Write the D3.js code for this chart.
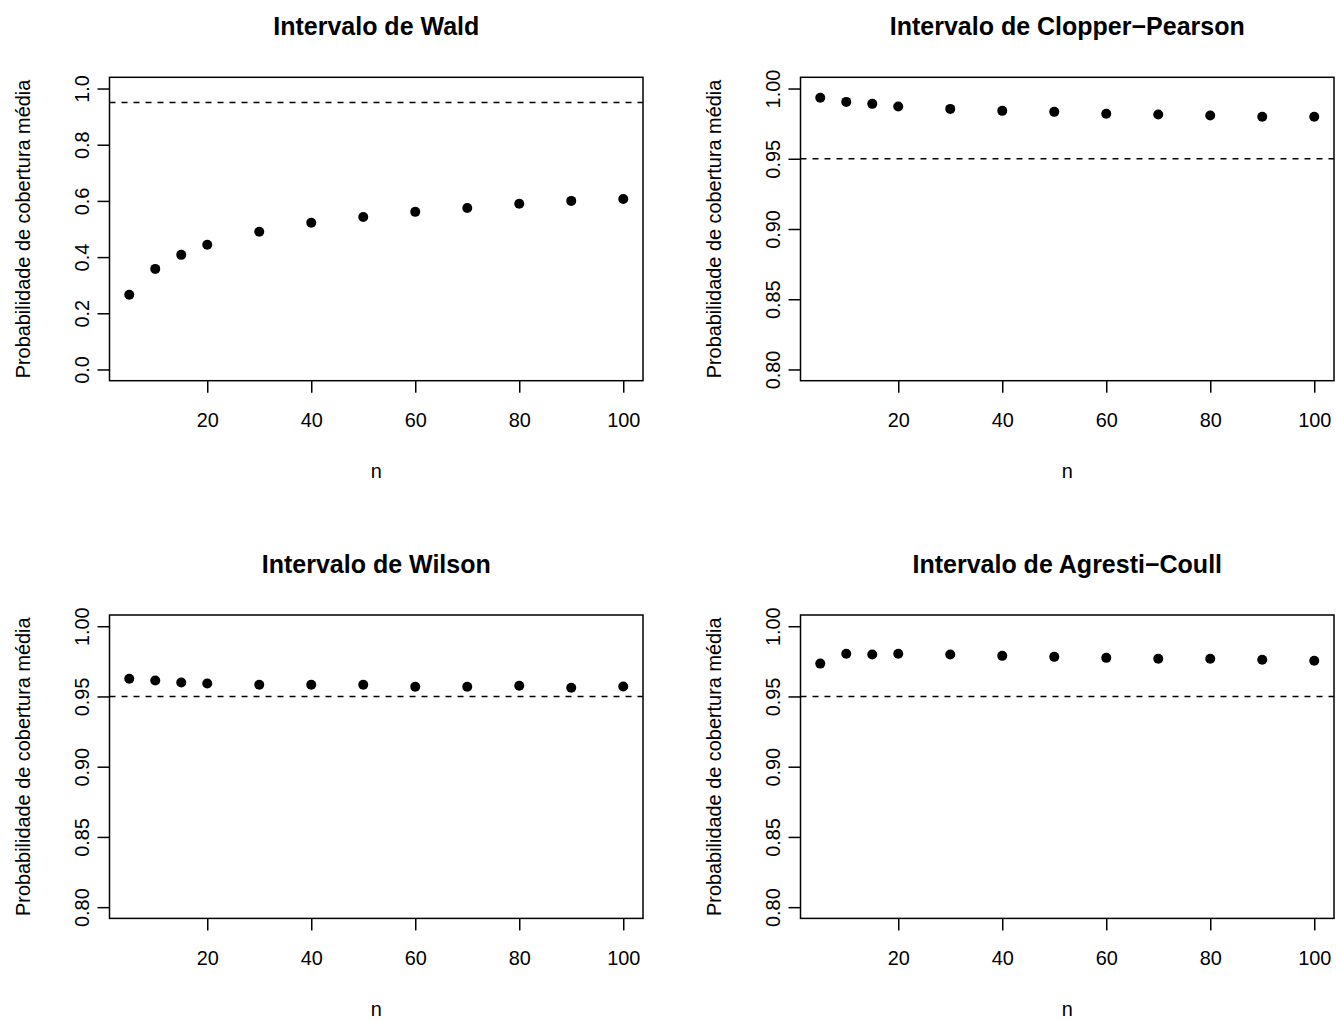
<!DOCTYPE html>
<html>
<head>
<meta charset="utf-8">
<script src="https://cdnjs.cloudflare.com/ajax/libs/d3/7.8.5/d3.min.js"></script>
<style>
  html, body { margin: 0; padding: 0; background: #ffffff; }
  svg { display: block; }
  text { font-family: "Liberation Sans", Arial, Helvetica, sans-serif; fill: #000; }
</style>
</head>
<body>
<svg id="chart" width="1336" height="1021"></svg>
<script>
// ---------------- data ----------------
const nValues = [5, 10, 15, 20, 30, 40, 50, 60, 70, 80, 90, 100];

const waldCoverage     = [0.266, 0.358, 0.408, 0.444, 0.490, 0.522, 0.543, 0.561, 0.575, 0.590, 0.600, 0.607];
const clopperCoverage  = [0.9934, 0.9905, 0.9891, 0.9872, 0.9855, 0.9841, 0.9834, 0.9820, 0.9815, 0.9808, 0.9799, 0.9799];
const wilsonCoverage   = [0.9626, 0.9614, 0.9599, 0.9592, 0.9583, 0.9583, 0.9583, 0.9569, 0.9569, 0.9576, 0.9562, 0.9571];
const agrestiCoverage  = [0.9734, 0.9804, 0.9799, 0.9804, 0.9799, 0.9789, 0.9782, 0.9775, 0.9768, 0.9768, 0.9761, 0.9754];

const panelTitles = ["Intervalo de Wald", "Intervalo de Clopper\u2212Pearson", "Intervalo de Wilson", "Intervalo de Agresti\u2212Coull"];
const xTickValues = [20, 40, 60, 80, 100];
const yTicksWald = [0.0, 0.2, 0.4, 0.6, 0.8, 1.0];
const yTicksNarrow = [0.80, 0.85, 0.90, 0.95, 1.00];
const yLimitsWald = [0, 1];
const yLimitsNarrow = [0.8, 1];
const nominalLevel = 0.95;
const xLabel = "n";
const yLabel = "Probabilidade de cobertura média";

// ---------------- layout ----------------
const svg = d3.select("#chart");
svg.append("rect").attr("width", 1336).attr("height", 1021).attr("fill", "#fff");

const boxW = 533.5, boxH = 303.4;
const colX = [109.5, 800.5];
const rowY = [77.3, 615.0];

const panels = [
  { title: panelTitles[0], values: waldCoverage,    ylim: yLimitsWald,   yticks: yTicksWald,   fmt: d3.format(".1f"), col: 0, row: 0 },
  { title: panelTitles[1], values: clopperCoverage, ylim: yLimitsNarrow, yticks: yTicksNarrow, fmt: d3.format(".2f"), col: 1, row: 0 },
  { title: panelTitles[2], values: wilsonCoverage,  ylim: yLimitsNarrow, yticks: yTicksNarrow, fmt: d3.format(".2f"), col: 0, row: 1 },
  { title: panelTitles[3], values: agrestiCoverage, ylim: yLimitsNarrow, yticks: yTicksNarrow, fmt: d3.format(".2f"), col: 1, row: 1 }
];

// R-style 4% axis expansion
function expand(lim) {
  const d = (lim[1] - lim[0]) * 0.04;
  return [lim[0] - d, lim[1] + d];
}

const xExt = d3.extent(nValues);
const labelSize = 19.9;
const titleSize = 25;
const tickLen = 12;
const lw = 1.5;

panels.forEach(p => {
  const x0 = colX[p.col], y0 = rowY[p.row];
  const g = svg.append("g").attr("transform", `translate(${x0},${y0})`);

  const x = d3.scaleLinear().domain(expand(xExt)).range([0, boxW]);
  const y = d3.scaleLinear().domain(expand(p.ylim)).range([boxH, 0]);

  // clip
  const clipId = "clip" + p.col + p.row;
  g.append("clipPath").attr("id", clipId)
    .append("rect").attr("width", boxW).attr("height", boxH);

  // dashed reference line
  g.append("line")
    .attr("clip-path", `url(#${clipId})`)
    .attr("x1", 0).attr("x2", boxW)
    .attr("y1", y(nominalLevel)).attr("y2", y(nominalLevel))
    .attr("stroke", "#000").attr("stroke-width", lw)
    .attr("stroke-dasharray", "6,6");

  // points
  g.append("g").selectAll("circle")
    .data(nValues.map((n, i) => ({ n, v: p.values[i] })))
    .join("circle")
    .attr("cx", d => x(d.n))
    .attr("cy", d => y(d.v))
    .attr("r", 5)
    .attr("fill", "#000");

  // box
  g.append("rect")
    .attr("width", boxW).attr("height", boxH)
    .attr("fill", "none").attr("stroke", "#000").attr("stroke-width", lw);

  // x axis
  const xAxis = g.append("g").attr("transform", `translate(0,${boxH})`)
    .call(d3.axisBottom(x).tickValues(xTickValues).tickSize(tickLen).tickFormat(d3.format("d")));
  xAxis.select(".domain").remove();
  xAxis.selectAll(".tick line").attr("stroke", "#000").attr("stroke-width", lw);
  xAxis.selectAll(".tick text")
    .attr("y", 46.5).attr("dy", 0)
    .attr("font-size", labelSize)
    .attr("font-family", "Liberation Sans, Arial, sans-serif")
    .attr("fill", "#000");

  // y axis
  const yAxis = g.append("g")
    .call(d3.axisLeft(y).tickValues(p.yticks).tickSize(tickLen).tickFormat(p.fmt));
  yAxis.select(".domain").remove();
  yAxis.selectAll(".tick line").attr("stroke", "#000").attr("stroke-width", lw);
  yAxis.selectAll(".tick text")
    .attr("x", 0).attr("y", 0).attr("dy", 0)
    .attr("text-anchor", "middle")
    .attr("transform", "translate(-20.7,0) rotate(-90)")
    .attr("font-size", labelSize)
    .attr("font-family", "Liberation Sans, Arial, sans-serif")
    .attr("fill", "#000");

  // title
  g.append("text")
    .attr("x", boxW / 2).attr("y", -42)
    .attr("text-anchor", "middle")
    .attr("font-size", titleSize)
    .attr("font-weight", "bold")
    .text(p.title);

  // x label
  g.append("text")
    .attr("x", boxW / 2).attr("y", boxH + 97.5)
    .attr("text-anchor", "middle")
    .attr("font-size", labelSize)
    .text(xLabel);

  // y label
  g.append("text")
    .attr("transform", `translate(-79.3,${boxH / 2}) rotate(-90)`)
    .attr("text-anchor", "middle")
    .attr("font-size", labelSize)
    .text(yLabel);
});
</script>
</body>
</html>
